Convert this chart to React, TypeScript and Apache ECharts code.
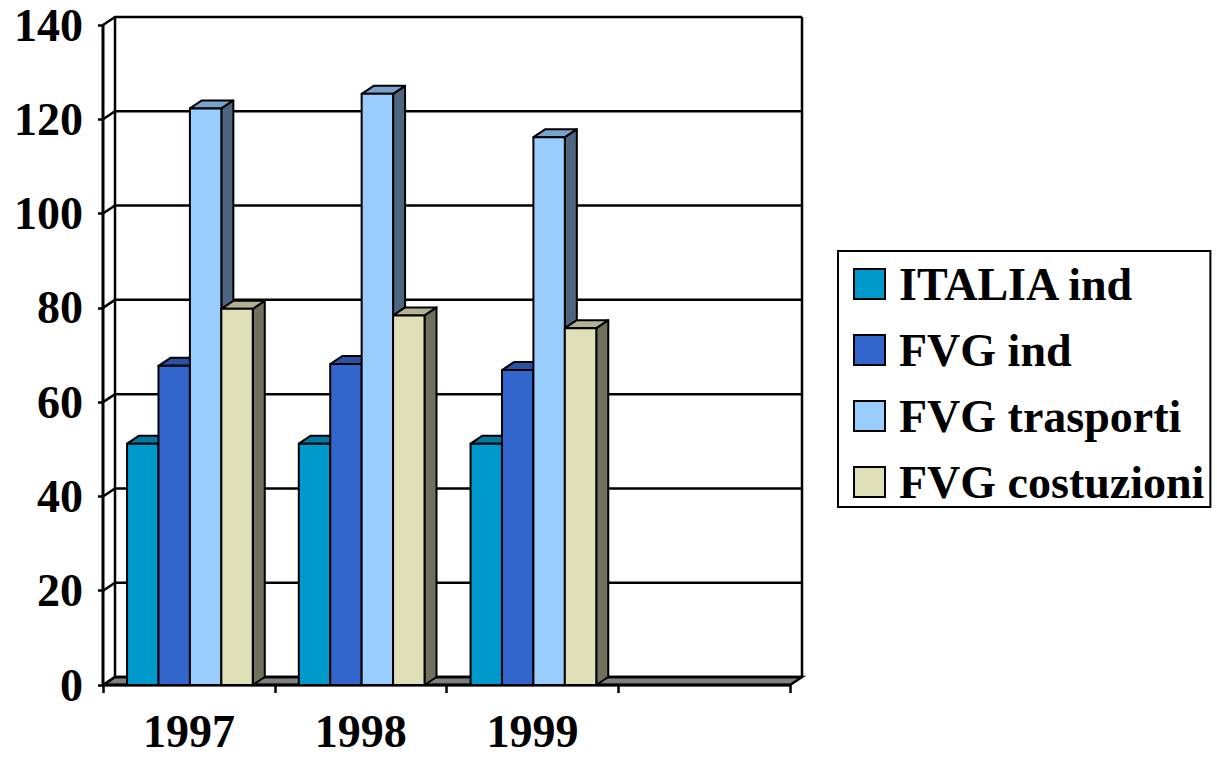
import React, { useEffect, useRef } from "react";
import * as echarts from "echarts";

const categories = ["1997", "1998", "1999", ""];
const seriesNames = ["ITALIA ind", "FVG ind", "FVG trasporti", "FVG costuzioni"];
const italiaInd = [51.2, 51.2, 51.2];
const fvgInd = [67.7, 68.1, 66.8];
const fvgTrasporti = [122.3, 125.4, 116.2];
const fvgCostruzioni = [79.8, 78.4, 75.7];
const yTicks = [0, 20, 40, 60, 80, 100, 120, 140];
const colors = ["#0099CC", "#3366CC", "#99CCFF", "#E0E0B8"];

const DX = 12;
const DY = 8;
const FONT = "Liberation Serif";

function shade(hex: string, f: number): string {
  const n = parseInt(hex.slice(1), 16);
  const r = Math.round(((n >> 16) & 255) * f);
  const g = Math.round(((n >> 8) & 255) * f);
  const b = Math.round((n & 255) * f);
  return "rgb(" + r + "," + g + "," + b + ")";
}

function makeBarSeries(name: string, values: number[], idx: number) {
  const color = colors[idx];
  return {
    type: "custom",
    name,
    z: 3,
    itemStyle: { color, borderColor: "#000", borderWidth: 2 },
    data: values.map((v, i) => [i, v]),
    renderItem: (params: any, api: any) => {
      const cat = api.value(0);
      const val = api.value(1);
      const top = api.coord([cat, val]);
      const base = api.coord([cat, 0]);
      const band = api.size([1, 0])[0];
      const w = band * 0.183;
      const x0 = top[0] - band / 2 + band * 0.14 + idx * w;
      const x1 = x0 + w;
      const yt = top[1];
      const yb = base[1];
      const stroke = { stroke: "#000", lineWidth: 2, lineJoin: "round" };
      return {
        type: "group",
        children: [
          {
            type: "polygon",
            shape: { points: [[x1, yt], [x1 + DX, yt - DY], [x1 + DX, yb - DY], [x1, yb]] },
            style: { fill: shade(color, 0.5), ...stroke },
          },
          {
            type: "polygon",
            shape: { points: [[x0, yt], [x0 + DX, yt - DY], [x1 + DX, yt - DY], [x1, yt]] },
            style: { fill: shade(color, 0.8), ...stroke },
          },
          {
            type: "rect",
            shape: { x: x0, y: yt, width: w, height: yb - yt },
            style: { fill: color, ...stroke },
          },
        ],
      };
    },
  };
}

export default function App() {
  const ref = useRef<HTMLDivElement>(null);
  useEffect(() => {
    if (!ref.current) return;
    const chart = echarts.init(ref.current, null, { renderer: "svg" });
    const wallSeries = {
      type: "custom",
      name: "walls",
      z: 1,
      silent: true,
      data: [[0, 0]],
      renderItem: (params: any, api: any) => {
        const cs = params.coordSys;
        const L = cs.x;
        const R = cs.x + cs.width;
        const T = cs.y;
        const B = cs.y + cs.height;
        const line = { stroke: "#000", lineWidth: 2.5, fill: null };
        const children: any[] = [];
        children.push({
          type: "polygon",
          shape: { points: [[L, B], [L + DX, B - DY], [R + DX, B - DY], [R, B]] },
          style: { fill: "#808080", stroke: "#000", lineWidth: 2.5 },
        });
        yTicks.forEach((v) => {
          const y = api.coord([0, v])[1];
          children.push({
            type: "polyline",
            shape: { points: [[L, y], [L + DX, y - DY], [R + DX, y - DY]] },
            style: line,
          });
        });
        children.push({
          type: "line",
          shape: { x1: L + DX, y1: T - DY, x2: L + DX, y2: B - DY },
          style: line,
        });
        children.push({
          type: "line",
          shape: { x1: R + DX, y1: T - DY, x2: R + DX, y2: B - DY },
          style: line,
        });
        children.push({
          type: "line",
          shape: { x1: L, y1: T, x2: L, y2: B },
          style: { stroke: "#000", lineWidth: 3 },
        });
        children.push({
          type: "line",
          shape: { x1: L, y1: B, x2: R, y2: B },
          style: { stroke: "#000", lineWidth: 3 },
        });
        return { type: "group", children };
      },
    };

    const textBase = {
      fontFamily: FONT,
      fontWeight: "bold",
      fontSize: 46,
      color: "#000",
    };

    chart.setOption({
      animation: false,
      backgroundColor: "#fff",
      grid: { left: 103, top: 25, width: 687, height: 660 },
      legend: {
        data: seriesNames,
        orient: "vertical",
        left: 838,
        top: 251,
        selectedMode: false,
        icon: "rect",
        itemWidth: 31,
        itemHeight: 30,
        itemGap: 20,
        padding: [10, 6, 2, 15],
        borderColor: "#000",
        borderWidth: 2,
        itemStyle: { borderColor: "#000", borderWidth: 2 },
        textStyle: {
          ...textBase,
          lineHeight: 44,
          padding: [0, 0, 0, 9],
        },
      },
      xAxis: {
        type: "category",
        data: categories,
        boundaryGap: true,
        axisLine: { show: false },
        axisTick: { show: true, length: 8, lineStyle: { color: "#000", width: 2.5 } },
        axisLabel: { ...textBase, margin: 23, lineHeight: 46 },
        splitLine: { show: false },
      },
      yAxis: {
        type: "value",
        min: 0,
        max: 140,
        interval: 20,
        axisLine: { show: false },
        axisTick: { show: true, length: 5, lineStyle: { color: "#000", width: 2.5 } },
        axisLabel: { ...textBase, margin: 20 },
        splitLine: { show: false },
      },
      series: [
        wallSeries,
        makeBarSeries(seriesNames[0], italiaInd, 0),
        makeBarSeries(seriesNames[1], fvgInd, 1),
        makeBarSeries(seriesNames[2], fvgTrasporti, 2),
        makeBarSeries(seriesNames[3], fvgCostruzioni, 3),
      ],
    });
    return () => chart.dispose();
  }, []);
  return (
    <div
      ref={ref}
      style={{ position: "fixed", left: 0, top: 0, width: 1217, height: 759 }}
    />
  );
}
